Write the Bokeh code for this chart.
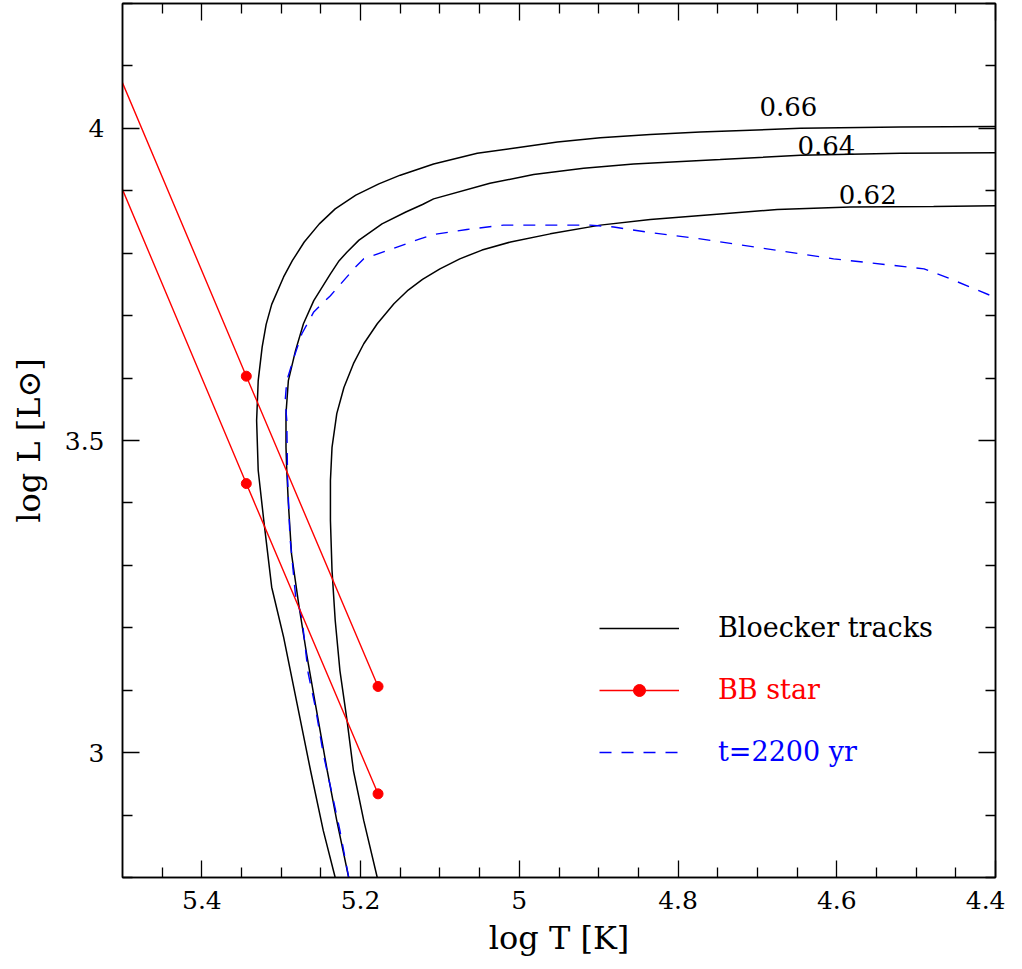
from bokeh.plotting import figure
from bokeh.models import Range1d, FixedTicker, LinearAxis, Legend, LegendItem
from bokeh.embed import file_html
from bokeh.resources import INLINE
from bokeh.core.properties import value

# ---------------- data ----------------
# Bloecker tracks (log T, log L)
t066_logT = [5.232, 5.247, 5.263, 5.280, 5.297, 5.312, 5.322, 5.329, 5.331, 5.329, 5.324, 5.319,
             5.312, 5.297, 5.286, 5.271, 5.252, 5.232, 5.206, 5.177, 5.150, 5.108, 5.053, 5.003,
             4.952, 4.898, 4.835, 4.772, 4.646, 4.520, 4.400]
t066_logL = [2.800, 2.875, 2.971, 3.078, 3.185, 3.265, 3.372, 3.452, 3.532, 3.596, 3.650, 3.686,
             3.718, 3.762, 3.788, 3.818, 3.847, 3.871, 3.893, 3.911, 3.925, 3.943, 3.960, 3.969,
             3.978, 3.985, 3.990, 3.994, 4.000, 4.002, 4.003]

t064_logT = [5.215, 5.230, 5.242, 5.257, 5.268, 5.278, 5.287, 5.291, 5.293, 5.294, 5.294, 5.291,
             5.282, 5.272, 5.259, 5.238, 5.227, 5.217, 5.202, 5.173, 5.143, 5.122, 5.108, 5.037,
             4.982, 4.919, 4.856, 4.747, 4.646, 4.520, 4.400]
t064_logL = [2.800, 2.891, 2.971, 3.078, 3.158, 3.238, 3.318, 3.399, 3.452, 3.489, 3.543, 3.596,
             3.644, 3.687, 3.724, 3.767, 3.788, 3.802, 3.821, 3.847, 3.866, 3.878, 3.887, 3.912,
             3.926, 3.936, 3.943, 3.950, 3.957, 3.960, 3.961]

t062_logT = [5.179, 5.196, 5.209, 5.217, 5.226, 5.232, 5.236, 5.238, 5.238, 5.236, 5.230, 5.221,
             5.209, 5.196, 5.179, 5.158, 5.140, 5.122, 5.100, 5.075, 5.047, 5.011, 4.961, 4.898,
             4.835, 4.747, 4.675, 4.583, 4.478, 4.400]
t062_logL = [2.800, 2.891, 2.971, 3.051, 3.131, 3.212, 3.292, 3.372, 3.436, 3.489, 3.543, 3.585,
             3.623, 3.655, 3.687, 3.719, 3.741, 3.758, 3.775, 3.791, 3.805, 3.818, 3.831, 3.845,
             3.854, 3.863, 3.870, 3.874, 3.875, 3.876]

# isochrone t = 2200 yr
iso_logT = [5.215, 5.226, 5.236, 5.247, 5.257, 5.266, 5.274, 5.282, 5.289, 5.292, 5.293, 5.295,
            5.293, 5.284, 5.274, 5.259, 5.238, 5.207, 5.196, 5.167, 5.125, 5.108, 5.066, 5.020,
            4.961, 4.911, 4.881, 4.835, 4.772, 4.688, 4.604, 4.490, 4.457, 4.400]
iso_logL = [2.800, 2.875, 2.934, 2.998, 3.073, 3.127, 3.217, 3.252, 3.345, 3.439, 3.532, 3.564,
            3.596, 3.633, 3.671, 3.706, 3.732, 3.777, 3.791, 3.804, 3.823, 3.830, 3.838, 3.845,
            3.845, 3.845, 3.842, 3.833, 3.823, 3.807, 3.791, 3.775, 3.759, 3.729]

# BB star solutions
bb_line_logT = [5.5, 5.344, 5.178]
bb1_line_logL = [4.073, 3.603, 3.106]
bb2_line_logL = [3.902, 3.431, 2.934]
bb_dot_logT = [5.344, 5.178]
bb1_dot_logL = [3.603, 3.106]
bb2_dot_logL = [3.431, 2.934]

# track mass labels
mass_labels = ["0.66", "0.64", "0.62"]
mass_label_logT = [4.661, 4.613, 4.561]
mass_label_logL = [4.035, 3.973, 3.894]

# axes
x_major = [4.4, 4.6, 4.8, 5.0, 5.2, 5.4]
x_major_labels = ["4.4", "4.6", "4.8", "5", "5.2", "5.4"]
x_minor = [4.45, 4.5, 4.55, 4.65, 4.7, 4.75, 4.85, 4.9, 4.95, 5.05, 5.1, 5.15,
           5.25, 5.3, 5.35, 5.45]
y_major = [3.0, 3.5, 4.0]
y_major_labels = ["3", "3.5", "4"]
y_minor = [2.8, 2.9, 3.1, 3.2, 3.3, 3.4, 3.6, 3.7, 3.8, 3.9, 4.1, 4.2]

legend_labels = ["Bloecker tracks", "BB star", "t=2200 yr"]

# ---------------- plot ----------------
FONT = "DejaVu Serif"

p = figure(width=1005, height=960, output_backend="svg", toolbar_location=None,
           x_range=Range1d(5.5, 4.4), y_range=Range1d(2.8, 4.2),
           min_border_left=122, min_border_right=10, min_border_top=3, min_border_bottom=83,
           x_axis_label="log T [K]", y_axis_label="log L [L\u2299]")
p.xgrid.visible = False
p.ygrid.visible = False
p.outline_line_color = "black"
p.outline_line_width = 1.5
p.background_fill_color = "white"
p.border_fill_color = "white"


def style_axis(ax, ticks, minor, labels, show_labels):
    ax.ticker = FixedTicker(ticks=ticks, minor_ticks=minor)
    ax.axis_line_color = "black"
    ax.axis_line_width = 1.5
    ax.major_tick_line_width = 1.3
    ax.minor_tick_line_width = 1.3
    ax.major_tick_in = 17
    ax.major_tick_out = 0
    ax.minor_tick_in = 10
    ax.minor_tick_out = 0
    if show_labels:
        ax.major_label_overrides = dict(zip(ticks, labels))
        ax.major_label_text_font = FONT
        ax.major_label_text_font_size = "25px"
        ax.major_label_text_color = "black"
        ax.axis_label_text_font = FONT
        ax.axis_label_text_font_size = "32px"
        ax.axis_label_text_font_style = "normal"
        ax.axis_label_text_color = "black"
    else:
        ax.major_label_overrides = {t: "" for t in ticks}
        ax.major_label_text_font_size = "0px"
        ax.major_label_standoff = 0


style_axis(p.xaxis[0], x_major, x_minor, x_major_labels, True)
style_axis(p.yaxis[0], y_major, y_minor, y_major_labels, True)
p.xaxis[0].major_label_standoff = 13
p.xaxis[0].axis_label_standoff = 7
p.yaxis[0].major_label_standoff = 18
p.yaxis[0].axis_label_standoff = 14

top_ax = LinearAxis()
right_ax = LinearAxis()
style_axis(top_ax, x_major, x_minor, x_major_labels, False)
style_axis(right_ax, y_major, y_minor, y_major_labels, False)
p.add_layout(top_ax, "above")
p.add_layout(right_ax, "right")

# tracks
r_t066 = p.line(t066_logT, t066_logL, line_color="black", line_width=1.5)
p.line(t064_logT, t064_logL, line_color="black", line_width=1.5)
p.line(t062_logT, t062_logL, line_color="black", line_width=1.5)

# isochrone
r_iso = p.line(iso_logT, iso_logL, line_color="#0000ff", line_width=1.4, line_dash="12 10")

# BB stars
r_bb_line = p.line(bb_line_logT, bb1_line_logL, line_color="#ff0000", line_width=1.4)
p.line(bb_line_logT, bb2_line_logL, line_color="#ff0000", line_width=1.4)
r_bb_dot = p.scatter(bb_dot_logT, bb1_dot_logL, size=10, marker="circle",
                     fill_color="#ff0000", line_color="#ff0000")
p.scatter(bb_dot_logT, bb2_dot_logL, size=10, marker="circle",
          fill_color="#ff0000", line_color="#ff0000")

# mass labels
p.text(x=mass_label_logT, y=mass_label_logL, text=mass_labels,
       text_font=value(FONT), text_font_size="26px", text_color="black",
       text_align="center", text_baseline="middle")

# legends (one per entry so each label gets its own colour)
legend_specs = [
    (legend_labels[0], [r_t066], "black", 234),
    (legend_labels[1], [r_bb_line, r_bb_dot], "#ff0000", 172),
    (legend_labels[2], [r_iso], "#0000ff", 110),
]
for lab, rends, col, ypos in legend_specs:
    lg = Legend(items=[LegendItem(label=lab, renderers=rends)],
                location=(477, ypos), orientation="vertical",
                glyph_width=80, glyph_height=30, label_height=30,
                label_standoff=39, padding=0, margin=0, spacing=0,
                border_line_color=None, background_fill_alpha=0,
                label_text_font=FONT, label_text_font_size="27px",
                label_text_color=col, label_text_baseline="middle")
    p.add_layout(lg, "center")

open("out.html", "w").write(file_html(p, INLINE))
